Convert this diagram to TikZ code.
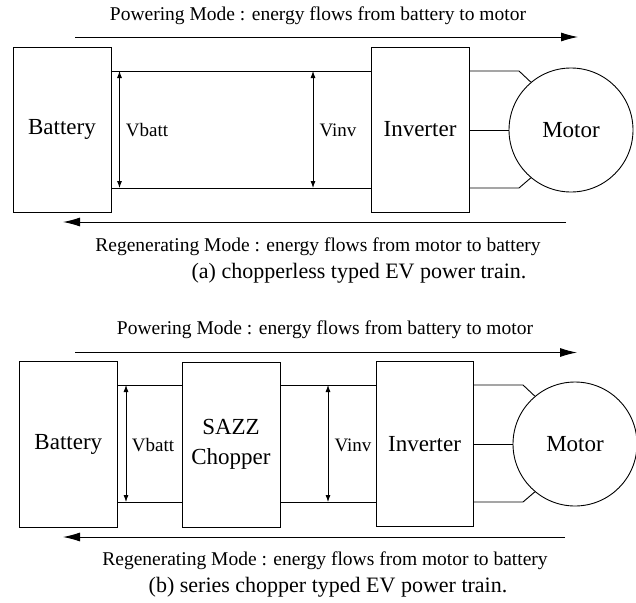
\documentclass[tikz,border=0pt]{standalone}
\usepackage{fontspec}
\setmainfont{Liberation Serif}
\usetikzlibrary{arrows.meta}
\tikzset{
  blk/.style={draw, line width=0.9pt, rectangle, minimum width=98pt, minimum height=165pt, inner sep=0pt, font=\fontsize{23}{26}\selectfont},
  mot/.style={draw, line width=0.9pt, circle, minimum size=124pt, inner sep=0pt, font=\fontsize{23}{26}\selectfont},
  wire/.style={line width=0.9pt},
  flow/.style={line width=0.9pt, -{Latex[length=17pt,width=9pt]}},
  volt/.style={line width=0.8pt, {Latex[length=7pt,width=5pt]}-{Latex[length=7pt,width=5pt]}},
  vlab/.style={font=\fontsize{19}{22}\selectfont, inner sep=0pt},
  modetxt/.style={font=\fontsize{19.5}{22}\selectfont, inner sep=0pt},
  captxt/.style={font=\fontsize{22}{25}\selectfont, inner sep=0pt}
}
\begin{document}
\begin{tikzpicture}[x=1pt,y=-1pt]
\useasboundingbox (0,0) rectangle (636,602);
% ---------------- (a) ----------------
\node[modetxt] (pa) at (318,16) {Powering Mode : energy flows from battery to motor};
\coordinate (pa1) at (75,37); \coordinate (pa2) at (578,37);
\draw[flow] (pa1) -- (pa2);
\node[blk] (batA) at (62,129.5) {Battery};
\node[blk] (invA) at (420,129.5) {Inverter};
\node[mot] (motA) at (571,130) {Motor};
\draw[wire] (batA.east |- 0,71) -- (invA.west |- 0,71);
\draw[wire] (batA.east |- 0,188) -- (invA.west |- 0,188);
\coordinate (ka1) at (519,71); \coordinate (ka2) at (519,188);
\draw[wire] (invA.east |- ka1) -- (ka1) -- (motA.130);
\draw[wire] (invA.east |- ka2) -- (ka2) -- (motA.230);
\draw[wire] (invA.east |- motA.west) -- (motA.west);
\coordinate (va1) at (119.5,71); \coordinate (va2) at (119.5,188);
\draw[volt] (va1) -- (va2);
\node[vlab] (vba) at (147,130) {Vbatt};
\coordinate (vi1) at (313,71); \coordinate (vi2) at (313,188);
\draw[volt] (vi1) -- (vi2);
\node[vlab] (via) at (338,130) {Vinv};
\coordinate (ra1) at (566,222); \coordinate (ra2) at (63,222);
\draw[flow] (ra1) -- (ra2);
\node[modetxt] (rga) at (318,247) {Regenerating Mode : energy flows from motor to battery};
\node[captxt] (capa) at (359,273) {(a) chopperless typed EV power train.};
% ---------------- (b) ----------------
\node[modetxt] (pb) at (325,330) {Powering Mode : energy flows from battery to motor};
\coordinate (pb1) at (75,352.5); \coordinate (pb2) at (577,352.5);
\draw[flow] (pb1) -- (pb2);
\node[blk, minimum height=166pt] (batB) at (68.3,444) {Battery};
\node[blk] (chB) at (231,444.5) {\begin{tabular}{@{}c@{}}SAZZ\\[4pt]Chopper\end{tabular}};
\node[blk, minimum width=97pt] (invB) at (424.5,444) {Inverter};
\node[mot] (motB) at (575,444) {Motor};
\draw[wire] (batB.east |- 0,385) -- (chB.west |- 0,385);
\draw[wire] (batB.east |- 0,502) -- (chB.west |- 0,502);
\draw[wire] (chB.east |- 0,385) -- (invB.west |- 0,385);
\draw[wire] (chB.east |- 0,502) -- (invB.west |- 0,502);
\coordinate (kb1) at (523,385); \coordinate (kb2) at (523,502);
\draw[wire] (invB.east |- kb1) -- (kb1) -- (motB.130);
\draw[wire] (invB.east |- kb2) -- (kb2) -- (motB.230);
\draw[wire] (invB.east |- motB.west) -- (motB.west);
\coordinate (vb1) at (126,385); \coordinate (vb2) at (126,502);
\draw[volt] (vb1) -- (vb2);
\node[vlab] (vbb) at (153,445) {Vbatt};
\coordinate (vj1) at (328,385); \coordinate (vj2) at (328,502);
\draw[volt] (vj1) -- (vj2);
\node[vlab] (vib) at (353,445) {Vinv};
\coordinate (rb1) at (565,537); \coordinate (rb2) at (63,537);
\draw[flow] (rb1) -- (rb2);
\node[modetxt] (rgb) at (325,561) {Regenerating Mode : energy flows from motor to battery};
\node[captxt] (capb) at (328,587) {(b) series chopper typed EV power train.};
\end{tikzpicture}
\end{document}
